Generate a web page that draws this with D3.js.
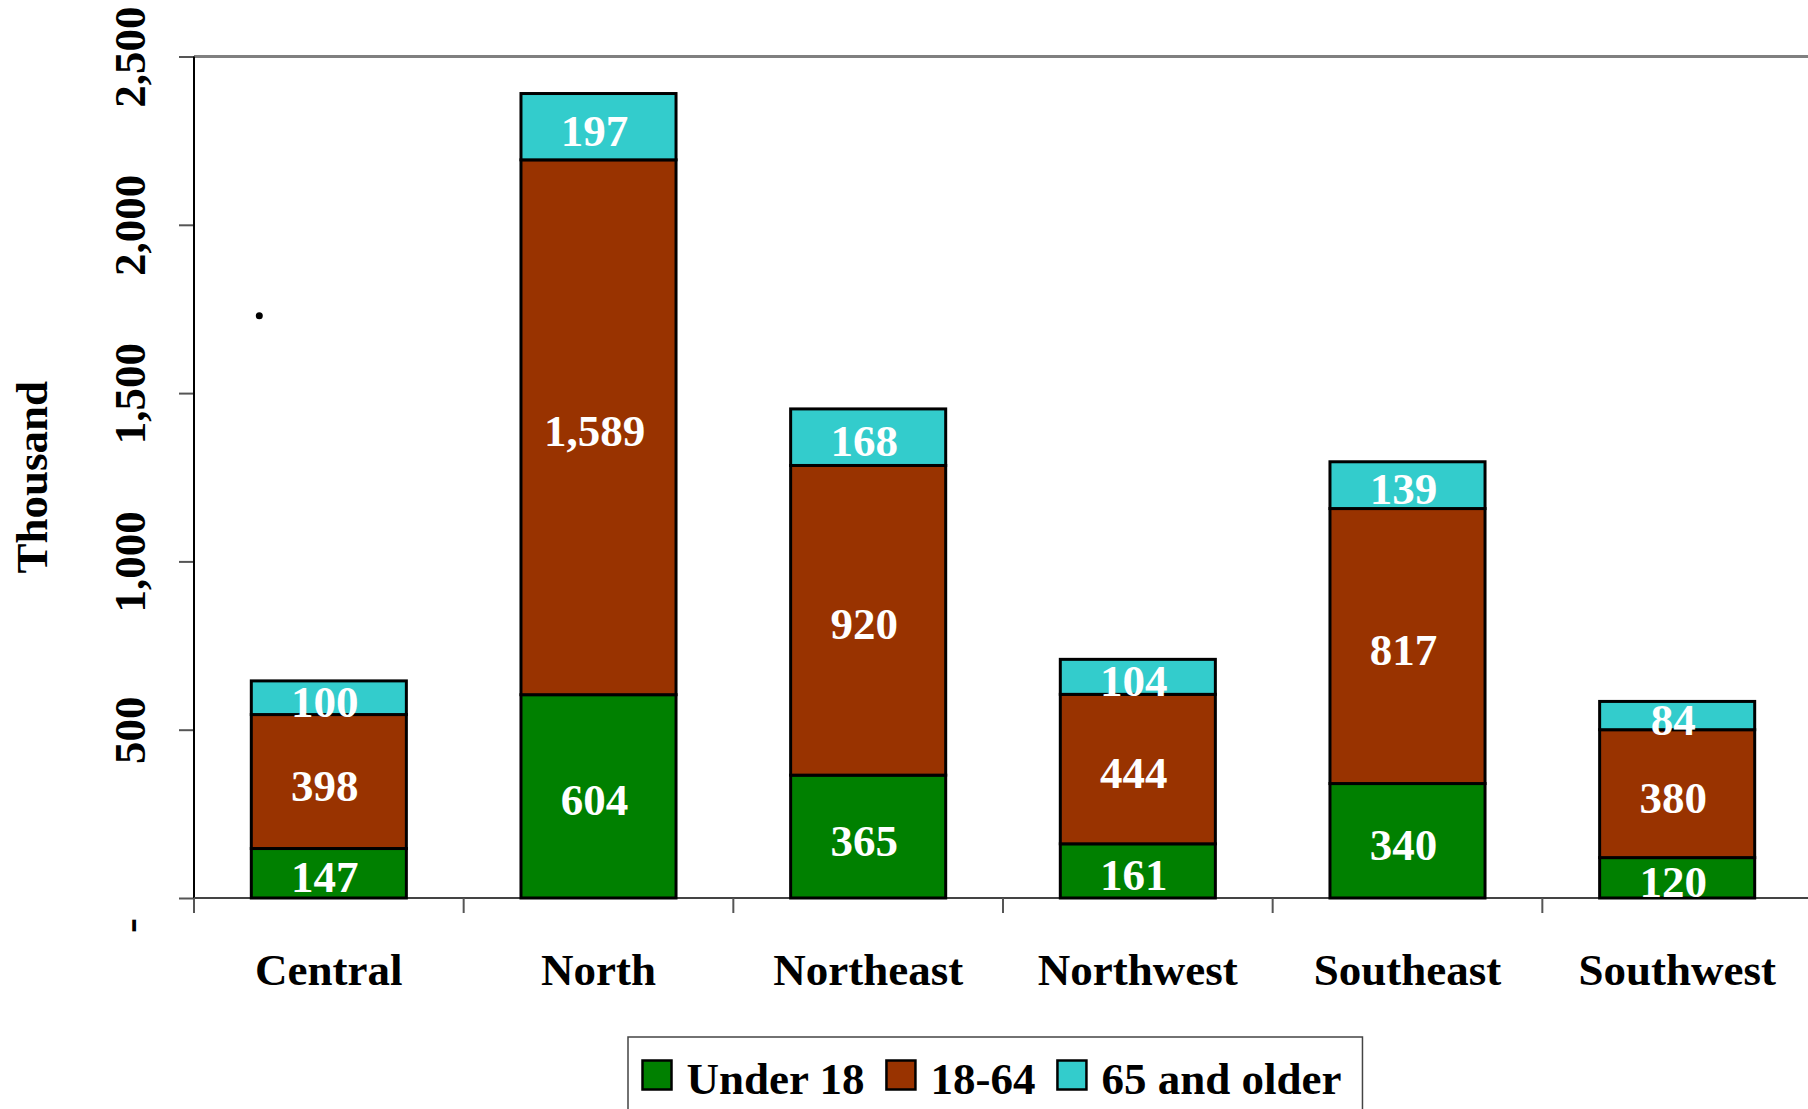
<!DOCTYPE html>
<html>
<head>
<meta charset="utf-8">
<script src="https://cdn.jsdelivr.net/npm/d3@7"></script>
<style>
  body { margin: 0; background: #fff; }
  svg { display: block; }
  text { font-family: "Liberation Serif", "Times New Roman", serif; font-weight: bold; }
</style>
</head>
<body>
<script>
// data (thousand people)
var regions = ["Central", "North", "Northeast", "Northwest", "Southeast", "Southwest"];
var under18 = [147, 604, 365, 161, 340, 120];
var age18to64 = [398, 1589, 920, 444, 817, 380];
var age65plus = [100, 197, 168, 104, 139, 84];
var seriesNames = ["Under 18", "18-64", "65 and older"];
var seriesColors = ["#008000", "#993300", "#33CCCC"];
var yTicks = [0, 500, 1000, 1500, 2000, 2500];

var width = 1808, height = 1109;
var fontSize = 45;

var svg = d3.select("body").append("svg")
    .attr("width", width)
    .attr("height", height);

var x = d3.scaleBand()//one band per region
    .domain(regions)
    .range([194, 1812])
    .paddingInner(0.425)
    .paddingOuter(0.2125);

var y = d3.scaleLinear()
    .domain([0, 2500])
    .range([898, 56.5]);

// stack the three age groups
var rows = regions.map(function (r, i) {
    return { region: r, s0: under18[i], s1: age18to64[i], s2: age65plus[i] };
});
var stack = d3.stack().keys(["s0", "s1", "s2"]);
var layers = stack(rows);

// top border of the plot area
svg.append("line")
    .attr("x1", 194).attr("x2", width)
    .attr("y1", y(2500)).attr("y2", y(2500))
    .attr("stroke", "#808080")
    .attr("stroke-width", 3);

// y axis
var yAxis = d3.axisLeft(y)
    .tickValues(yTicks)
    .tickSize(15)
    .tickFormat(function (d) { return d == 0 ? "-" : d3.format(",")(d); });

var gy = svg.append("g")
    .attr("transform", "translate(194,0)")
    .call(yAxis);
gy.select(".domain").remove();
gy.selectAll(".tick line").attr("stroke", "#555").attr("stroke-width", 2);
gy.selectAll(".tick text")
    .attr("fill", "#000")
    .style("font-size", fontSize + "px")
    .attr("text-anchor", "middle")
    .attr("x", null).attr("dy", null)
    .attr("transform", function (d) {
        var off = d == 0 ? 27 : 0;//the zero dash sits a bit below its tick
        return "translate(-49," + off + ") rotate(-90)";
    });

svg.append("line")//y axis line
    .attr("x1", 194).attr("x2", 194)
    .attr("y1", y(2500)).attr("y2", y(0) + 15)
    .attr("stroke", "#000")
    .attr("stroke-width", 2);

svg.append("text")//y axis title
    .attr("transform", "translate(47," + ((y(0) + y(2500)) / 2) + ") rotate(-90)")
    .attr("text-anchor", "middle")
    .style("font-size", fontSize + "px")
    .text("Thousand");

// x axis baseline and ticks between categories
svg.append("line")
    .attr("x1", 194).attr("x2", width)
    .attr("y1", y(0)).attr("y2", y(0))
    .attr("stroke", "#444")
    .attr("stroke-width", 2);

var gapHalf = (x.step() - x.bandwidth()) / 2;
svg.selectAll(".xtick")
    .data(regions)
    .enter().append("line")
    .attr("class", "xtick")
    .attr("x1", function (d) { return x(d) - gapHalf; })
    .attr("x2", function (d) { return x(d) - gapHalf; })
    .attr("y1", y(0)).attr("y2", y(0) + 15)
    .attr("stroke", "#555")
    .attr("stroke-width", 2);

svg.selectAll(".xlabel")
    .data(regions)
    .enter().append("text")
    .attr("class", "xlabel")
    .attr("x", function (d) { return x(d) + x.bandwidth() / 2; })
    .attr("y", 985)
    .attr("text-anchor", "middle")
    .style("font-size", fontSize + "px")
    .text(function (d) { return d; });

// bars
layers.forEach(function (layer, k) {
    svg.selectAll(".seg" + k)
        .data(layer)
        .enter().append("rect")
        .attr("class", "seg" + k)
        .attr("x", function (d) { return x(d.data.region); })
        .attr("width", x.bandwidth())
        .attr("y", function (d) { return y(d[1]); })
        .attr("height", function (d) { return y(d[0]) - y(d[1]); })
        .attr("fill", seriesColors[k])
        .attr("stroke", "#000")
        .attr("stroke-width", 3);
});

// value labels on top of segments
layers.forEach(function (layer, k) {
    svg.selectAll(".val" + k)
        .data(layer)
        .enter().append("text")
        .attr("class", "val" + k)
        .attr("x", function (d) { return x(d.data.region) + x.bandwidth() / 2 - 4; })
        .attr("y", function (d) { return (y(d[0]) + y(d[1])) / 2 + 19; })
        .attr("text-anchor", "middle")
        .attr("fill", "#fff")
        .style("font-size", fontSize + "px")
        .text(function (d) { return d3.format(",")(d[1] - d[0]); });
});

// stray dot left in the original picture
svg.append("circle")
    .attr("cx", x("Central") + 8)
    .attr("cy", y(1730))
    .attr("r", 3.5)
    .attr("fill", "#000");

// legend
var legend = svg.append("g").attr("transform", "translate(628,1037)");
var items = legend.append("g");
var cx = 14.5;
seriesNames.forEach(function (name, k) {
    items.append("rect")
        .attr("x", cx).attr("y", 23.5)
        .attr("width", 29).attr("height", 29)
        .attr("fill", seriesColors[k])
        .attr("stroke", "#000")
        .attr("stroke-width", 2.5);
    cx += 29 + 15;
    var t = items.append("text")
        .attr("x", cx).attr("y", 57)
        .style("font-size", fontSize + "px")
        .text(name);
    cx += t.node().getComputedTextLength() + 22;
});
legend.insert("rect", ":first-child")
    .attr("x", 0).attr("y", 0)
    .attr("width", cx - 22 + 21).attr("height", 100)
    .attr("fill", "none")
    .attr("stroke", "#444")
    .attr("stroke-width", 1.5);
</script>
</body>
</html>
